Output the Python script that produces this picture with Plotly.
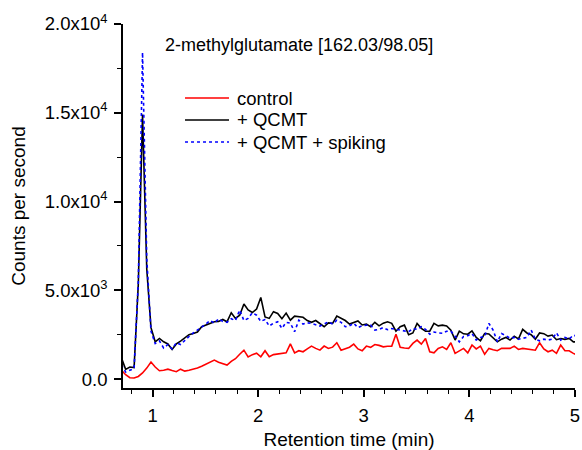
import plotly.graph_objects as go

retention_time = [
    0.705, 0.745, 0.785, 0.825, 0.865, 0.905, 0.945, 0.985, 1.025, 1.065,
    1.105, 1.145, 1.185, 1.225, 1.265, 1.305, 1.345, 1.385, 1.425, 1.465,
    1.505, 1.545, 1.585, 1.625, 1.665, 1.705, 1.745, 1.785, 1.825, 1.865,
    1.905, 1.945, 1.985, 2.025, 2.065, 2.105, 2.145, 2.185, 2.225, 2.265,
    2.305, 2.345, 2.385, 2.425, 2.465, 2.505, 2.545, 2.585, 2.625, 2.665,
    2.705, 2.745, 2.785, 2.825, 2.865, 2.905, 2.945, 2.985, 3.025, 3.065,
    3.105, 3.145, 3.185, 3.225, 3.265, 3.305, 3.345, 3.385, 3.425, 3.465,
    3.505, 3.545, 3.585, 3.625, 3.665, 3.705, 3.745, 3.785, 3.825, 3.865,
    3.905, 3.945, 3.985, 4.025, 4.065, 4.105, 4.145, 4.185, 4.225, 4.265,
    4.305, 4.345, 4.385, 4.425, 4.465, 4.505, 4.545, 4.585, 4.625, 4.665,
    4.705, 4.745, 4.785, 4.825, 4.865, 4.905, 4.945, 4.985, 5.025,
]

control = [
    500, 250, 80, 60, 150, 350, 620, 960, 680, 470,
    500, 560, 480, 420, 560, 450, 500, 540, 620, 720,
    850, 975, 1070, 950, 880, 790, 1000, 1150, 1400, 1630,
    1250, 1380, 1460, 1260, 1600, 1260, 1380, 1400, 1420, 1480,
    1980, 1480, 1600, 1540, 1700, 1860, 1730, 1630, 1860, 1730,
    1800, 2050, 1630, 1730, 1800, 1970, 1700, 1600, 1860, 1790,
    1950, 1900, 1820, 1850, 1860, 2530, 1790, 1750, 1730, 2010,
    2200, 1970, 2290, 1540, 1480, 1730, 1820, 1670, 2050, 1450,
    1600, 1730, 1480, 1920, 1700, 1860, 1400, 1730, 1650, 1600,
    1730, 1730, 1730, 1860, 1670, 1730, 1700, 1650, 1630, 2050,
    1700, 1540, 1630, 1450, 1920, 1600, 1600, 1450, 1350,
]

qcmt = [
    1200, 550, 680, 650, 5360, 14900, 6200, 2900, 2100, 2290,
    2100, 1980, 1670, 1980, 2140, 2300, 2500, 2570, 2650, 2950,
    3040, 3150, 3230, 3250, 3360, 3230, 3740, 3420, 3600, 4230,
    3900, 3750, 3950, 4600, 3500, 3420, 3800, 3700, 3400, 3720,
    3320, 3550, 3500, 3480, 3300, 3200, 3300, 3150, 2950, 3170,
    3140, 3550, 3400, 3300, 3100, 3170, 3280, 3050, 3100, 2950,
    3200, 3000, 3150, 3230, 3140, 2700, 2950, 3040, 2500, 2600,
    3140, 2860, 2700, 2700, 3140, 3000, 3040, 2990, 2760, 2200,
    2700, 2550, 2530, 2720, 2350, 2160, 2570, 2540, 2300, 2100,
    2250, 2350, 2200, 2420, 2260, 2800, 2600, 2500, 2250, 2600,
    2560, 2420, 2480, 2220, 2290, 2240, 2290, 2100, 2100,
]

qcmt_spiking = [
    800, 400, 500, 600, 5500, 18400, 6800, 2700, 2000, 2150,
    1750, 1950, 1700, 2050, 1950, 2200, 2400, 2600, 2750, 2950,
    3100, 3300, 3150, 3400, 3250, 3200, 3400, 3300, 3890, 3300,
    3420, 3740, 3600, 3250, 3360, 2990, 3150, 3230, 2860, 3200,
    3150, 2670, 3320, 3100, 3170, 3140, 3050, 2990, 3100, 3230,
    3100, 3320, 3200, 2950, 3000, 3150, 2900, 3000, 3040, 3040,
    2760, 2800, 2900, 2780, 2850, 2800, 2750, 2700, 2670, 2850,
    2800, 2950, 2800, 2530, 2650, 2600, 2580, 2700, 2700, 2420,
    2100, 2400, 2450, 2570, 2200, 2350, 2400, 3140, 2760, 2100,
    2570, 2450, 2300, 2350, 2250, 2300, 2350, 2760, 2250, 2160,
    2250, 2200, 2250, 2610, 2200, 2350, 2250, 2480, 2400,
]

series_names = ["control", "+ QCMT", "+ QCMT + spiking"]
series_colors = ["#ff0000", "#000000", "#0000ff"]
series_dash = ["solid", "solid", "dot"]
y_tick_values = [0, 5000, 10000, 15000, 20000]
y_tick_labels = ["0.0", "5.0x10<sup>3</sup>", "1.0x10<sup>4</sup>",
                 "1.5x10<sup>4</sup>", "2.0x10<sup>4</sup>"]
x_tick_values = [1, 2, 3, 4, 5]
chart_title = "2-methylglutamate [162.03/98.05]"

FONT = "Liberation Sans, Arial, sans-serif"

fig = go.Figure()
for name, vals, col, dash in zip(series_names, [control, qcmt, qcmt_spiking],
                                 series_colors, series_dash):
    fig.add_trace(go.Scatter(x=retention_time, y=vals, name=name, mode="lines",
                             line=dict(color=col, width=1.6, dash=dash),
                             showlegend=False))

# legend drawn as keys (line samples + labels) in paper coordinates
legend_rows_y = [0.7967, 0.7363, 0.6758]
shapes = []
annotations = []
for name, col, dash, yy in zip(series_names, series_colors, series_dash, legend_rows_y):
    shapes.append(dict(type="line", xref="paper", yref="paper", x0=0.1372, x1=0.2345,
                       y0=yy, y1=yy, line=dict(color=col, width=1.6, dash=dash)))
    annotations.append(dict(text=name, xref="paper", yref="paper", x=0.2478, y=yy,
                            xanchor="left", yanchor="middle", showarrow=False,
                            font=dict(size=18.5, family=FONT)))
annotations.append(dict(text=chart_title, x=0.0885, y=0.9423, xref="paper", yref="paper",
                        xanchor="left", yanchor="middle", showarrow=False,
                        font=dict(size=18, family=FONT)))

fig.update_layout(
    width=582, height=450,
    margin=dict(l=123, r=7, t=24, b=62, autoexpand=False),
    paper_bgcolor="white", plot_bgcolor="white",
    font=dict(family=FONT, size=18.5, color="black"),
    showlegend=False,
    shapes=shapes,
    annotations=annotations,
)

fig.update_xaxes(
    range=[0.72, 5.0005], showline=True, linecolor="black", linewidth=1.5,
    showgrid=False, zeroline=False, ticks="outside", ticklen=7, tickwidth=1.5,
    tickcolor="black", tickvals=x_tick_values, automargin=False,
    ticklabelstandoff=3,
    minor=dict(dtick=0.2, tick0=0, ticks="outside", ticklen=4, tickwidth=1.2,
               tickcolor="black", showgrid=False),
    title=dict(text="Retention time (min)", font=dict(size=19), standoff=14),
    tickfont=dict(size=18.5),
)
fig.update_yaxes(
    range=[-500, 20000], showline=True, linecolor="black", linewidth=1.5,
    showgrid=False, zeroline=False, ticks="outside", ticklen=7, tickwidth=1.5,
    tickcolor="black", tickvals=y_tick_values, ticktext=y_tick_labels, automargin=False,
    ticklabelstandoff=3,
    minor=dict(tickvals=[2500, 7500, 12500, 17500], ticks="outside", ticklen=4,
               tickwidth=1.2, tickcolor="black", showgrid=False),
    title=dict(text="Counts per second", font=dict(size=19), standoff=14),
    tickfont=dict(size=18.5),
)

fig.write_html("out.html", config={"displayModeBar": False},
               post_script="document.body.style.margin='0';")
